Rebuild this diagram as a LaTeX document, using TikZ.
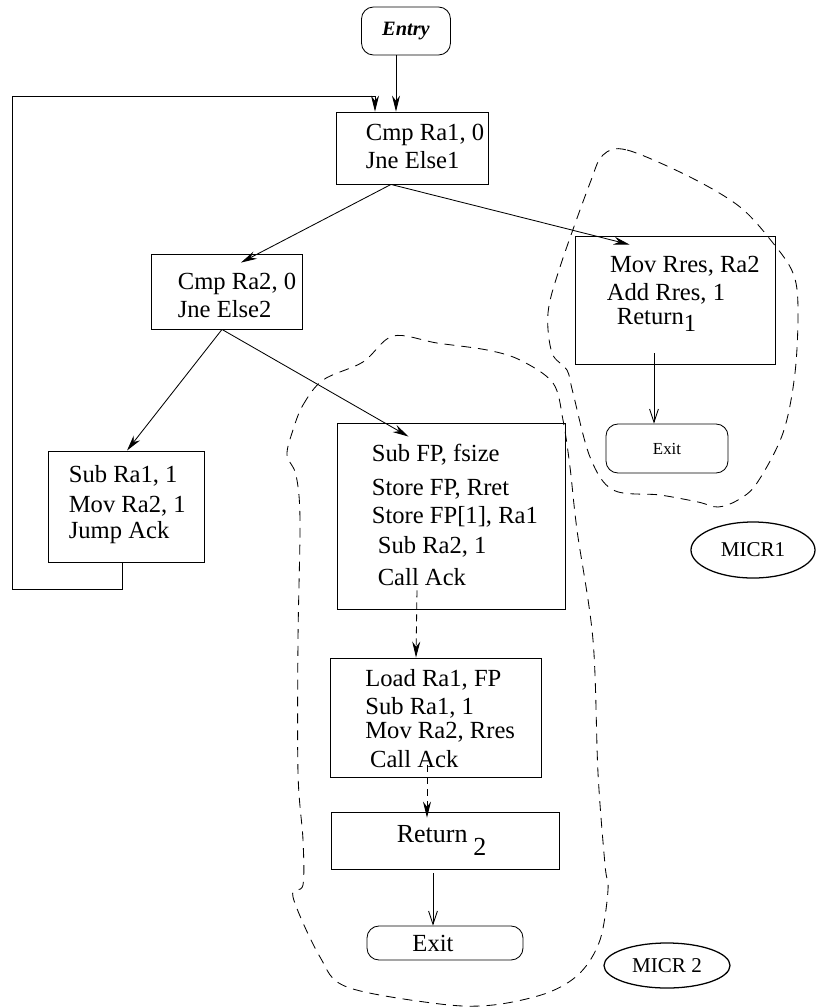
\documentclass[tikz,border=0pt]{standalone}
\usepackage{fontspec}
\setmainfont{Liberation Serif}
\usetikzlibrary{arrows.meta,calc,shapes.geometric}

\tikzset{
  blk/.style={draw,line width=0.6pt,inner sep=0pt},
  term/.style={blk,rounded corners=0.3cm},
  code/.style={align=left,inner sep=0pt,font=\fontsize{17.5}{20}\selectfont},
  flow/.style={line width=0.6pt,-{Stealth[length=4mm,width=2mm]}},
  callflow/.style={flow,dash pattern=on 5pt off 3.5pt},
  exitflow/.style={line width=0.6pt,-{Straight Barb[length=3.3mm,width=2.2mm]}},
  region/.style={draw,line width=0.6pt,dash pattern=on 7pt off 5pt},
  tag/.style={draw,ellipse,line width=0.9pt,inner sep=0pt,font=\fontsize{15}{18}\selectfont},
}

\begin{document}
\begin{tikzpicture}[x=0.025cm,y=-0.025cm]
\useasboundingbox (0,0) rectangle (818,1007);

% blocks
\node[term,minimum width=2.225cm,minimum height=1.2cm,font=\fontsize{14.5}{17}\selectfont\bfseries\itshape] (entry) at (406,31) {Entry};
\node[blk,minimum width=3.8cm,minimum height=1.8cm] (cmpa) at (412,148) {};
\node[blk,minimum width=3.775cm,minimum height=1.875cm] (cmpb) at (226.5,291.5) {};
\node[blk,minimum width=5cm,minimum height=3.2cm] (movres) at (675,300) {};
\node[term,minimum width=3.05cm,minimum height=1.225cm,font=\fontsize{12}{14}\selectfont] (exita) at (667,448.5) {Exit};
\node[blk,minimum width=3.9cm,minimum height=2.775cm] (subra) at (126,506.5) {};
\node[blk,minimum width=5.7cm,minimum height=4.65cm] (subfp) at (451,516) {};
\node[blk,minimum width=5.275cm,minimum height=2.975cm] (loadra) at (436,717.5) {};
\node[blk,minimum width=5.7cm,minimum height=1.425cm] (retb) at (445,840.5) {};
\node[term,minimum width=3.9cm,minimum height=0.85cm,font=\fontsize{17.5}{20}\selectfont] (exitb) at (445,943) {\hspace*{-0.6cm}Exit};

% block texts
\node[code,anchor=west] (cmpa-txt) at ($(cmpa.west)+(30,-2)$) {Cmp Ra1, 0\\Jne Else1};
\node[code,anchor=west] (cmpb-txt) at ($(cmpb.west)+(27,4)$) {Cmp Ra2, 0\\Jne Else2};
\node[code,anchor=west] (movres-txt) at ($(movres.west)+(32,-6)$) {\hspace*{0.08cm}Mov Rres, Ra2\\Add Rres, 1\\[-0.1cm]\hspace*{0.25cm}Return\raisebox{-0.3em}{1}};
\node[code,anchor=west] (subra-txt) at ($(subra.west)+(21,-2)$) {Sub Ra1, 1\\[0.05cm]Mov Ra2, 1\\[-0.05cm]Jump Ack};
\node[code,anchor=west] (subfp-txt) at ($(subfp.west)+(35,-1)$) {Sub FP, fsize\\[0.15cm]Store FP, Rret\\Store FP[1], Ra1\\[0.05cm]\hspace*{0.15cm}Sub Ra2, 1\\[0.1cm]\hspace*{0.15cm}Call Ack};
\node[code,anchor=west] (loadra-txt) at ($(loadra.west)+(35,1)$) {Load Ra1, FP\\Sub Ra1, 1\\[-0.1cm]Mov Ra2, Rres\\\hspace*{0.12cm}Call Ack};
\node[code,anchor=west,font=\fontsize{18.5}{21}\selectfont] (retb-txt) at ($(retb.west)+(66,0)$) {Return\hspace{4pt}\raisebox{-0.5em}{2}};

% region tags
\node[tag,minimum width=3.1cm,minimum height=1.4cm] (micra) at (753,550) {MICR1};
\node[tag,minimum width=3.15cm,minimum height=1.125cm] (micrb) at (667,965.5) {MICR 2};

% connectors
\draw[flow] ($(entry.south)+(-10,0)$) -- ($(cmpa.north)+(-16,0)$);
\draw[flow] ($(subra.south)+(-4,0)$) |- (12,589) |- (375,96) -- ($(cmpa.north)+(-37,0)$);
\draw[flow] ($(cmpa.south)+(-21,0)$) -- ($(cmpb.north)+(14.5,9)$);
\draw[flow] ($(cmpa.south)+(-21,0)$) -- ($(movres.north west)+(55,9)$);
\draw[flow] ($(cmpb.south)+(-4.5,0)$) -- ($(subra.north)+(1,0)$);
\draw[flow] ($(cmpb.south)+(-4.5,0)$) -- ($(subfp.north west)+(72,14)$);
\draw[exitflow] ($(movres.south)+(-21,-11)$) -- ($(exita.north)+(-13,0)$);
\draw[callflow] ($(subfp.south)+(-34,-19)$) -- ($(loadra.north)+(-20,0)$);
\draw[callflow] ($(loadra.south)+(-9,-12)$) -- ($(retb.north)+(-18,6)$);
\draw[exitflow] ($(retb.south)+(-12,4)$) -- ($(exitb.north)+(-12,0)$);

% MICR regions
\draw[region] plot[smooth cycle,tension=0.55] coordinates {(603,155) (627,150) (690,177) (740,207) (773,243) (793,273) (798,307) (795,373) (783,433) (757,483) (738,500) (718,507) (698,502) (660,495) (613,490) (590,457) (573,393) (567,370) (552,353) (548,313) (560,267) (590,183)};
\draw[region] plot[smooth cycle,tension=0.55] coordinates {(293,430) (303,405) (323,380) (363,362) (393,336) (437,343) (487,350) (520,360) (553,383) (563,420) (570,467) (577,530) (593,640) (598,773) (605,865) (608,890) (600,940) (580,973) (547,993) (493,1005) (440,1004) (347,987) (320,957) (293,897) (303,885) (303,840) (298,773) (298,640) (300,520) (296,475) (287,455)};
\end{tikzpicture}
\end{document}
